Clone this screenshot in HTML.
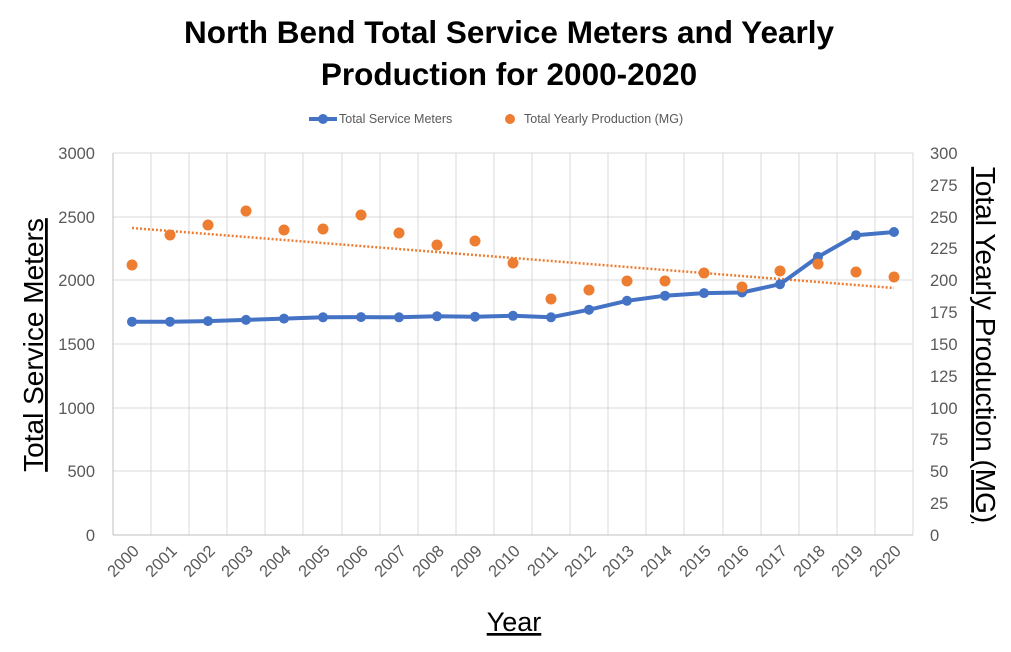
<!DOCTYPE html><html><head><style>body{margin:0;background:#fff}</style></head><body>
<svg width="1011" height="647" xmlns="http://www.w3.org/2000/svg" font-family="Liberation Sans, sans-serif">
<rect width="1011" height="647" fill="#fff"/>
<text x="509" y="43" text-anchor="middle" font-size="31.5" font-weight="bold" fill="#000">North Bend Total Service Meters and Yearly</text>
<text x="509" y="85" text-anchor="middle" font-size="31.5" font-weight="bold" fill="#000">Production for 2000-2020</text>
<line x1="309" y1="119" x2="337" y2="119" stroke="#4472C4" stroke-width="4"/><circle cx="323" cy="119" r="5" fill="#4472C4"/>
<text x="339" y="123" font-size="12.5" fill="#595959">Total Service Meters</text>
<circle cx="510" cy="119" r="5" fill="#ED7D31"/>
<text x="524" y="123" font-size="12.5" fill="#595959">Total Yearly Production (MG)</text>
<g stroke="#d9d9d9" stroke-width="1">
<line x1="113" y1="153" x2="913" y2="153"/><line x1="113" y1="217" x2="913" y2="217"/><line x1="113" y1="280" x2="913" y2="280"/><line x1="113" y1="344" x2="913" y2="344"/><line x1="113" y1="408" x2="913" y2="408"/><line x1="113" y1="471" x2="913" y2="471"/>
<line x1="151" y1="153" x2="151" y2="535"/><line x1="189" y1="153" x2="189" y2="535"/><line x1="227" y1="153" x2="227" y2="535"/><line x1="265" y1="153" x2="265" y2="535"/><line x1="303" y1="153" x2="303" y2="535"/><line x1="342" y1="153" x2="342" y2="535"/><line x1="380" y1="153" x2="380" y2="535"/><line x1="418" y1="153" x2="418" y2="535"/><line x1="456" y1="153" x2="456" y2="535"/><line x1="494" y1="153" x2="494" y2="535"/><line x1="532" y1="153" x2="532" y2="535"/><line x1="570" y1="153" x2="570" y2="535"/><line x1="608" y1="153" x2="608" y2="535"/><line x1="646" y1="153" x2="646" y2="535"/><line x1="684" y1="153" x2="684" y2="535"/><line x1="723" y1="153" x2="723" y2="535"/><line x1="761" y1="153" x2="761" y2="535"/><line x1="799" y1="153" x2="799" y2="535"/><line x1="837" y1="153" x2="837" y2="535"/><line x1="875" y1="153" x2="875" y2="535"/><line x1="913" y1="153" x2="913" y2="535"/>
</g>
<line x1="113" y1="153" x2="113" y2="535" stroke="#bfbfbf"/>
<line x1="113" y1="535" x2="913" y2="535" stroke="#bfbfbf"/>
<g font-size="16.5" fill="#595959" text-anchor="end">
<text x="95" y="159">3000</text><text x="95" y="223">2500</text><text x="95" y="286">2000</text><text x="95" y="350">1500</text><text x="95" y="414">1000</text><text x="95" y="477">500</text><text x="95" y="541">0</text>
</g>
<g font-size="16.5" fill="#595959" text-anchor="start">
<text x="930" y="159">300</text><text x="930" y="191">275</text><text x="930" y="223">250</text><text x="930" y="254">225</text><text x="930" y="286">200</text><text x="930" y="318">175</text><text x="930" y="350">150</text><text x="930" y="382">125</text><text x="930" y="414">100</text><text x="930" y="445">75</text><text x="930" y="477">50</text><text x="930" y="509">25</text><text x="930" y="541">0</text>
</g>
<g font-size="16.5" fill="#595959" text-anchor="end">
<text transform="translate(140,552) rotate(-45)">2000</text><text transform="translate(178,552) rotate(-45)">2001</text><text transform="translate(216,552) rotate(-45)">2002</text><text transform="translate(254,552) rotate(-45)">2003</text><text transform="translate(292,552) rotate(-45)">2004</text><text transform="translate(331,552) rotate(-45)">2005</text><text transform="translate(369,552) rotate(-45)">2006</text><text transform="translate(407,552) rotate(-45)">2007</text><text transform="translate(445,552) rotate(-45)">2008</text><text transform="translate(483,552) rotate(-45)">2009</text><text transform="translate(521,552) rotate(-45)">2010</text><text transform="translate(559,552) rotate(-45)">2011</text><text transform="translate(597,552) rotate(-45)">2012</text><text transform="translate(635,552) rotate(-45)">2013</text><text transform="translate(673,552) rotate(-45)">2014</text><text transform="translate(712,552) rotate(-45)">2015</text><text transform="translate(750,552) rotate(-45)">2016</text><text transform="translate(788,552) rotate(-45)">2017</text><text transform="translate(826,552) rotate(-45)">2018</text><text transform="translate(864,552) rotate(-45)">2019</text><text transform="translate(902,552) rotate(-45)">2020</text>
</g>
<text x="514" y="631" text-anchor="middle" font-size="27" fill="#000" text-decoration="underline">Year</text>
<text transform="translate(43,345) rotate(-90)" text-anchor="middle" font-size="28" fill="#000" text-decoration="underline">Total Service Meters</text>
<text transform="translate(976,345) rotate(90)" text-anchor="middle" font-size="28" fill="#000" text-decoration="underline">Total Yearly Production (MG)</text>
<line x1="132" y1="228" x2="894" y2="288" stroke="#ED7D31" stroke-width="2.5" stroke-dasharray="2,2"/>
<polyline fill="none" stroke="#4472C4" stroke-width="4" stroke-linejoin="round" points="132,321.7 170,321.7 208,321.1 246,319.9 284,318.6 323,317.3 361,317.1 399,317.3 437,316.3 475,316.7 513,315.8 551,317.3 589,309.7 627,300.8 665,295.7 704,293.1 742,292.5 780,284.2 818,256.9 856,235.2 894,232"/>
<g fill="#4472C4">
<circle cx="132" cy="321.7" r="5"/><circle cx="170" cy="321.7" r="5"/><circle cx="208" cy="321.1" r="5"/><circle cx="246" cy="319.9" r="5"/><circle cx="284" cy="318.6" r="5"/><circle cx="323" cy="317.3" r="5"/><circle cx="361" cy="317.1" r="5"/><circle cx="399" cy="317.3" r="5"/><circle cx="437" cy="316.3" r="5"/><circle cx="475" cy="316.7" r="5"/><circle cx="513" cy="315.8" r="5"/><circle cx="551" cy="317.3" r="5"/><circle cx="589" cy="309.7" r="5"/><circle cx="627" cy="300.8" r="5"/><circle cx="665" cy="295.7" r="5"/><circle cx="704" cy="293.1" r="5"/><circle cx="742" cy="292.5" r="5"/><circle cx="780" cy="284.2" r="5"/><circle cx="818" cy="256.9" r="5"/><circle cx="856" cy="235.2" r="5"/><circle cx="894" cy="232" r="5"/>
</g>
<g fill="#ED7D31">
<circle cx="132" cy="265" r="5.5"/><circle cx="170" cy="235" r="5.5"/><circle cx="208" cy="225" r="5.5"/><circle cx="246" cy="211" r="5.5"/><circle cx="284" cy="230" r="5.5"/><circle cx="323" cy="229" r="5.5"/><circle cx="361" cy="215" r="5.5"/><circle cx="399" cy="233" r="5.5"/><circle cx="437" cy="245" r="5.5"/><circle cx="475" cy="241" r="5.5"/><circle cx="513" cy="263" r="5.5"/><circle cx="551" cy="299" r="5.5"/><circle cx="589" cy="290" r="5.5"/><circle cx="627" cy="281" r="5.5"/><circle cx="665" cy="281" r="5.5"/><circle cx="704" cy="273" r="5.5"/><circle cx="742" cy="287" r="5.5"/><circle cx="780" cy="271" r="5.5"/><circle cx="818" cy="264" r="5.5"/><circle cx="856" cy="272" r="5.5"/><circle cx="894" cy="277" r="5.5"/>
</g>
</svg>
</body></html>
